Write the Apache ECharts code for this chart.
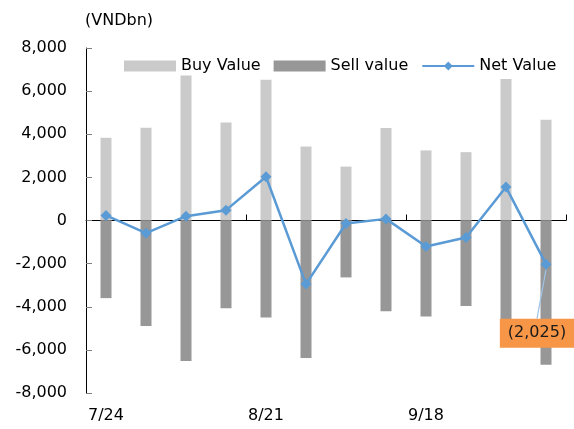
<!DOCTYPE html>
<html>
<head>
<meta charset="utf-8">
<script src="https://cdn.jsdelivr.net/npm/echarts@6/dist/echarts.min.js"></script>
<style>
  html, body { margin: 0; padding: 0; background: #fff; }
  #chart { width: 574px; height: 429px; }
</style>
</head>
<body>
<div id="chart"></div>
<script>
var weeks = ["7/24", "7/31", "8/7", "8/14", "8/21", "8/28", "9/4", "9/11", "9/18", "9/25", "10/2", "10/9"];
var buyValue = [3836, 4300, 6720, 4550, 6530, 3430, 2500, 4285, 3250, 3170, 6565, 4670];
var sellValue = [-3600, -4890, -6520, -4070, -4500, -6380, -2640, -4210, -4455, -3960, -5015, -6695];
var netValue = [236, -590, 200, 480, 2030, -2950, -140, 75, -1205, -790, 1550, -2025];
var yTicks = { min: -8000, max: 8000, step: 2000 };

var font = "DejaVu Sans";

function fmt(v) {
    return v.toLocaleString("en-US");
}

var netData = netValue.map(function (v, i) {
    if (i !== netValue.length - 1) return v;
    return {
        value: v,
        label: {
            show: true,
            position: "inside",
            formatter: "(" + fmt(Math.abs(v)) + ")",
            backgroundColor: "#F79646",
            color: "#1a1a1a",
            fontFamily: font,
            fontSize: 16,
            padding: [7, 8, 6, 8]
        }
    };
});

var chart = echarts.init(document.getElementById("chart"));
chart.setOption({
    animation: false,
    textStyle: { fontFamily: font },
    title: {
        text: "(VNDbn)",
        left: 80,
        top: 8,
        textStyle: { fontFamily: font, fontSize: 16, fontWeight: "normal", color: "#000" }
    },
    legend: {
        left: 119,
        top: 53,
        itemWidth: 52,
        itemHeight: 11,
        itemGap: 13,
        textStyle: { fontFamily: font, fontSize: 16, color: "#000" },
        data: [
            { name: "Buy Value", icon: "rect" },
            { name: "Sell value", icon: "rect" },
            { name: "Net Value" }
        ]
    },
    grid: { left: 86, right: 8, top: 48, bottom: 36 },
    xAxis: [
        {
            type: "category",
            data: weeks,
            position: "bottom",
            axisLine: { show: false, onZero: false },
            axisTick: { show: false },
            axisLabel: { interval: 3, margin: 15, fontSize: 16, color: "#000", fontFamily: font }
        },
        {
            type: "category",
            data: weeks,
            position: "top",
            axisLine: { show: true, onZero: true, lineStyle: { color: "#000", width: 1 } },
            axisTick: { show: true, interval: 3, inside: false, length: 6, lineStyle: { color: "#000" } },
            axisLabel: { show: false }
        }
    ],
    yAxis: {
        type: "value",
        min: yTicks.min,
        max: yTicks.max,
        interval: yTicks.step,
        axisLine: { show: true, lineStyle: { color: "#000", width: 1 } },
        axisTick: { show: true, inside: true, length: 6, lineStyle: { color: "#808080" } },
        splitLine: { show: false },
        axisLabel: { margin: 19, fontSize: 16, color: "#000", fontFamily: font, formatter: fmt }
    },
    series: [
        {
            name: "Buy Value",
            type: "bar",
            data: buyValue,
            barWidth: 11,
            barGap: "-100%",
            itemStyle: { color: "#CACACA" }
        },
        {
            name: "Sell value",
            type: "bar",
            data: sellValue,
            barWidth: 11,
            barGap: "-100%",
            itemStyle: { color: "#979797" }
        },
        {
            name: "Net Value",
            type: "line",
            data: netData,
            symbol: "diamond",
            symbolSize: 11,
            lineStyle: { color: "#5B9BD5", width: 2.5 },
            itemStyle: { color: "#5B9BD5" },
            label: { show: false },
            labelLayout: { dx: -9, dy: 69 },
            labelLine: { show: true, lineStyle: { color: "#9DC3E6", width: 1.2 } },
            z: 5
        }
    ]
});
</script>
</body>
</html>
